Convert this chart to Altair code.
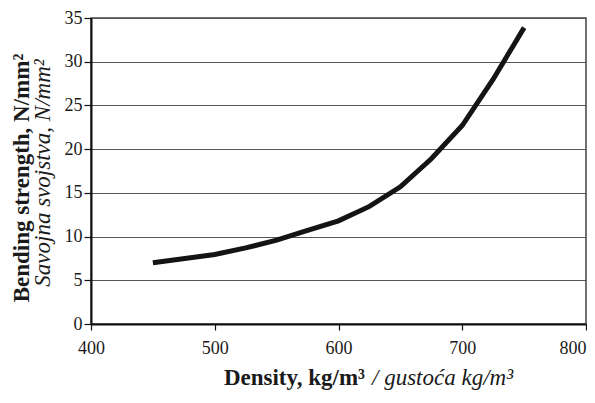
import altair as alt
import pandas as pd

# Data
density = [450, 500, 525, 550, 575, 600, 625, 650, 675, 700, 725, 750]
strength = [7.0, 7.95, 8.7, 9.6, 10.7, 11.8, 13.45, 15.7, 18.9, 22.7, 28.0, 33.9]

x_ticks = [400, 500, 600, 700, 800]
y_ticks = [0, 5, 10, 15, 20, 25, 30, 35]

x_title_bold = ["Density, kg/m³"]
x_title_italic = ["/ gustoća kg/m³"]
y_title_bold = ["Bending strength,  N/mm²"]
y_title_italic = ["Savojna svojstva,  N/mm²"]

FONT = "Liberation Serif, Tinos, Times New Roman, DejaVu Serif, serif"

df = pd.DataFrame({"density": density, "strength": strength})

line = alt.Chart(df).mark_line(color="#141414", strokeWidth=5, strokeCap="butt").encode(
    x=alt.X(
        "density:Q",
        scale=alt.Scale(domain=[400, 800], nice=False, zero=False),
        axis=alt.Axis(
            values=x_ticks,
            title=None,
            grid=False,
            domainColor="#111111",
            domainWidth=2,
            tickColor="#111111",
            tickWidth=1.2,
            tickSize=6,
            labelFont=FONT,
            labelFontSize=18,
            labelColor="#1a1a1a",
            labelPadding=9,
            labelAlign=alt.expr("datum.value == 800 ? 'right' : 'center'"),
        ),
    ),
    y=alt.Y(
        "strength:Q",
        scale=alt.Scale(domain=[0, 35], nice=False),
        axis=alt.Axis(
            values=y_ticks,
            title=None,
            grid=True,
            gridColor="#555555",
            gridWidth=1,
            domainColor="#111111",
            domainWidth=2,
            tickColor="#111111",
            tickWidth=1.2,
            tickSize=7,
            labelFont=FONT,
            labelFontSize=18,
            labelColor="#1a1a1a",
            labelPadding=2,
        ),
    ),
)

def txt(values, x, y, weight, style, align, size, angle=0):
    d = pd.DataFrame({"t": values})
    return alt.Chart(d).mark_text(
        font=FONT,
        fontSize=size,
        fontWeight=weight,
        fontStyle=style,
        align=align,
        baseline="alphabetic",
        angle=angle,
        color="#1a1a1a",
    ).encode(x=alt.value(x), y=alt.value(y), text="t:N")

xb = txt(x_title_bold, 274, 367, "bold", "normal", "right", 23)
xi = txt(x_title_italic, 281, 367, "normal", "italic", "left", 23)
yb = txt(y_title_bold, -62, 160, "bold", "normal", "center", 23, 270)
yi = txt(y_title_italic, -41, 155, "normal", "italic", "center", 23, 270)

chart = alt.layer(line, xb, xi, yb, yi).properties(
    width=495,
    height=306,
    autosize=alt.AutoSizeParams(type="none"),
    padding={"left": 83, "top": 10, "right": 1, "bottom": 67},
    background="white",
).configure_view(
    stroke="#444444", strokeWidth=1.5
)

chart.save("out.html", embed_options={"renderer": "svg", "actions": False})
